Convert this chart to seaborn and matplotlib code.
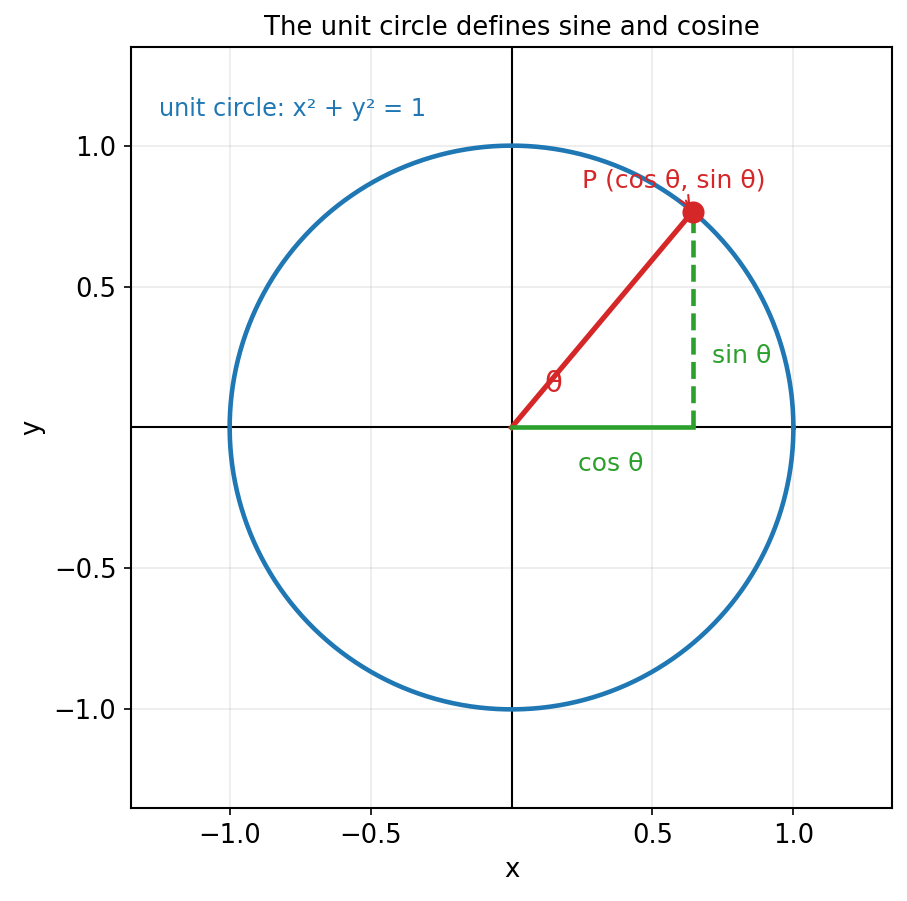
import numpy as np
import pandas as pd
import seaborn as sns
import matplotlib.pyplot as plt

# angle of the point P (degrees)
theta_deg = 50
tick_vals = [-1.0, -0.5, 0.5, 1.0]
tick_labels = ["\u22121.0", "\u22120.5", "0.5", "1.0"]

plt.rcParams["font.size"] = 12.4
plt.rcParams["axes.titlesize"] = 12.4
plt.rcParams["axes.labelsize"] = 12.4
plt.rcParams["xtick.labelsize"] = 12.4
plt.rcParams["ytick.labelsize"] = 12.4
plt.rcParams["axes.linewidth"] = 1.0

t = np.linspace(0, 2 * np.pi, 400)
circle = pd.DataFrame({"x": np.cos(t), "y": np.sin(t)})

th = np.deg2rad(theta_deg)
px, py = np.cos(th), np.sin(th)

fig = plt.figure(figsize=(6.047, 6.007), dpi=150)
ax = fig.add_axes([0.1433, 0.1032, 0.8413, 0.8446])

ax.axhline(0, color="black", lw=1)
ax.axvline(0, color="black", lw=1)

sns.lineplot(data=circle, x="x", y="y", sort=False, estimator=None,
             color="tab:blue", lw=2.2, ax=ax)

# radius
sns.lineplot(x=[0, px], y=[0, py], color="tab:red", lw=2.5, ax=ax)
# cos / sin legs
sns.lineplot(x=[0, px], y=[0, 0], color="tab:green", lw=2.2, ax=ax)
ax.plot([px, px], [0, py], color="tab:green", lw=2.2, ls="--")
ax.plot([px], [py], "o", color="tab:red", ms=9.6, zorder=5)

ax.annotate("P (cos \u03b8, sin \u03b8)", xy=(px, py), xytext=(0.575, 0.85),
            color="tab:red", fontsize=12, ha="center",
            arrowprops=dict(arrowstyle="->", color="tab:red", lw=1))
ax.text(0.15, 0.155, "\u03b8", color="tab:red", fontsize=14, ha="center", va="center")
ax.text(px + 0.07, py / 3, "sin \u03b8", color="tab:green", fontsize=12, va="center")
ax.text(px / 2 + 0.03, -0.13, "cos \u03b8", color="tab:green", fontsize=12, ha="center", va="center")
ax.text(-1.25, 1.13, "unit circle: x\u00b2 + y\u00b2 = 1", color="tab:blue", fontsize=11.5, va="center")

ax.set_xlim(-1.35, 1.35)
ax.set_ylim(-1.35, 1.35)
ax.set_aspect("equal")
ax.set_xticks(tick_vals)
ax.set_xticklabels(tick_labels)
ax.set_yticks(tick_vals)
ax.set_yticklabels(tick_labels)
ax.grid(True, alpha=0.25)
ax.set_xlabel("x")
ax.set_ylabel("y")
ax.set_title("The unit circle defines sine and cosine")

fig.savefig("out.png", dpi=150)
